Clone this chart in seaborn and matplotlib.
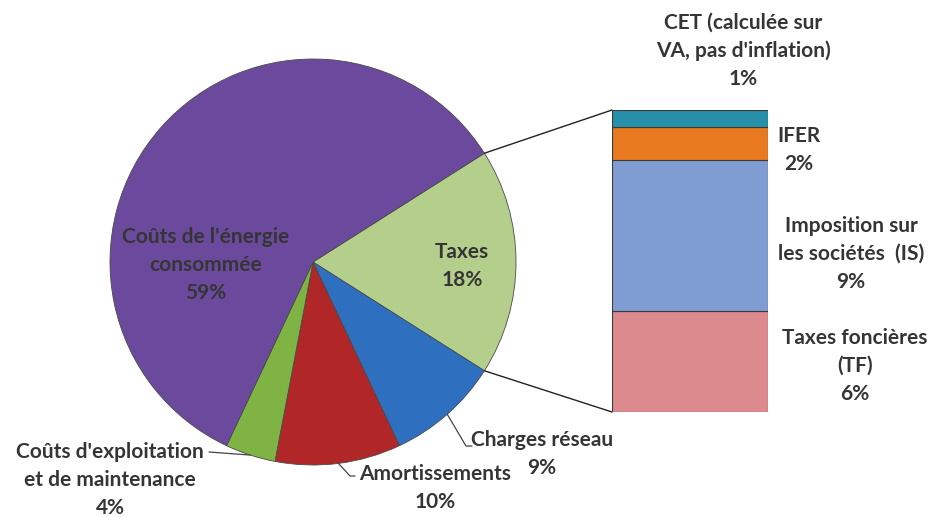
import numpy as np
import pandas as pd
import matplotlib
matplotlib.use("Agg")
import matplotlib.pyplot as plt
import seaborn as sns

# pie slices, clockwise starting with Taxes
pie_labels = ["Taxes", "Charges réseau", "Amortissements",
              "Coûts d'exploitation\net de maintenance",
              "Coûts de l'énergie\nconsommée"]
pie_values = [18, 9, 10, 4, 59]
pie_colors = ["#b4cf8b", "#2e6fc0", "#b12626", "#7fb343", "#6b4a9d"]

# breakdown of the Taxes slice, bottom to top
tax_labels = ["Taxes foncières\n(TF)", "Imposition sur\nles sociétés  (IS)",
              "IFER", "CET (calculée sur\nVA, pas d'inflation)"]
tax_values = [6, 9, 2, 1]
tax_colors = ["#dd8a8f", "#7f9dd2", "#e8791f", "#2690aa"]

sns.set_theme(style="white")
plt.rcParams["font.family"] = ["Lato", "DejaVu Sans"]

W, H = 932, 517
fig = plt.figure(figsize=(9.32, 5.17), dpi=100)
ax = fig.add_axes([0, 0, 1, 1])

# ---- pie
cx, cy, r = 313, 255, 203
start = 360 * pie_values[0] / 100 / 2
wedges, _ = ax.pie(pie_values, colors=pie_colors, startangle=start,
                   counterclock=False, center=(cx, cy), radius=r,
                   wedgeprops=dict(edgecolor="#4a4a4a", linewidth=0.6))
ax.set_xlim(0, W)
ax.set_ylim(0, H)
ax.set_aspect("equal")
ax.axis("off")

# ---- stacked bar for the taxes
bx0, by0, bw, bh = 612, 105, 156, 302
bax = fig.add_axes([bx0 / W, by0 / H, bw / W, bh / H])
df = pd.DataFrame({"grp": ["Taxes"] * len(tax_values),
                   "part": tax_labels, "val": tax_values})
sns.histplot(data=df, x="grp", hue="part", weights="val", multiple="stack",
             discrete=True, shrink=1, hue_order=tax_labels[::-1],
             palette=dict(zip(tax_labels, tax_colors)), alpha=1,
             edgecolor="#3a3a3a", linewidth=0.8, legend=False, ax=bax)
bax.set_xlim(-0.5, 0.5)
bax.set_ylim(0, sum(tax_values))
bax.axis("off")

# connectors pie -> bar
a1 = np.deg2rad(wedges[0].theta2)
a2 = np.deg2rad(wedges[0].theta1)
ax.plot([cx + r * np.cos(a1), bx0], [cy + r * np.sin(a1), by0 + bh],
        color="#222222", lw=1)
ax.plot([cx + r * np.cos(a2), bx0], [cy + r * np.sin(a2), by0],
        color="#222222", lw=1)

txt = dict(fontsize=15, fontweight="bold", color="#353535",
           ha="center", va="center", linespacing=1.5)

def lab(i):
    return f"{pie_labels[i]}\n{pie_values[i]}%"

ax.text(206, 252, lab(4), **txt)
ax.text(462, 251, lab(0), **txt)
ax.text(542, 63, lab(1), **txt)
ax.text(435, 29, lab(2), **txt)
ax.text(110, 37, lab(3), **txt)

# leader lines
def edge(i):
    m = np.deg2rad((wedges[i].theta1 + wedges[i].theta2) / 2)
    return cx + r * np.cos(m), cy + r * np.sin(m)

ex, ey = edge(1)
ax.plot([ex, 466, 472], [ey, 71, 71], color="#444444", lw=0.9)
ex, ey = edge(2)
ax.plot([ex, 350, 355], [ey, 41, 41], color="#444444", lw=0.9)
ex, ey = edge(3)
ax.plot([209, ex], [65, ey], color="#444444", lw=0.9)

# bar labels
ax.text(855, 151, f"{tax_labels[0]}\n{tax_values[0]}%", **txt)
ax.text(851, 263, f"{tax_labels[1]}\n{tax_values[1]}%", **txt)
ax.text(799, 367, f"{tax_labels[2]}\n{tax_values[2]}%", **txt)
ax.text(743, 466, f"{tax_labels[3]}\n{tax_values[3]}%", **txt)

fig.savefig("out.png", dpi=100)
